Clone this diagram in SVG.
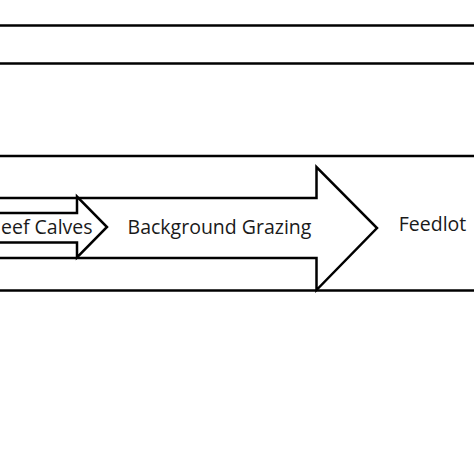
<svg xmlns="http://www.w3.org/2000/svg" width="474" height="474" viewBox="0 0 474 474">
<style>
.ln{stroke:#000;stroke-width:2.5;fill:none}
.ar{stroke:#000;stroke-width:2.5;fill:#fff;stroke-linejoin:miter}
.t{font-family:"Open Sans","Liberation Sans",sans-serif;font-size:19.5px;fill:#1a1a1a}
</style>
<rect width="474" height="474" fill="#fff"/>
<g id="connectors">
<line class="ln" x1="0" y1="25.5" x2="474" y2="25.5"/>
<line class="ln" x1="0" y1="63.5" x2="474" y2="63.5"/>
<line class="ln" x1="0" y1="156" x2="474" y2="156"/>
<line class="ln" x1="0" y1="290.5" x2="474" y2="290.5"/>
</g>
<g id="background-grazing">
<polygon class="ar" points="-5,198 316.5,198 316.5,167 377,228 316.5,290 316.5,258 -5,258"/>
<text class="t" x="219.5" y="234" text-anchor="middle">Background Grazing</text>
</g>
<g id="beef-calves">
<polygon class="ar" points="-5,213 77,213 77,196.5 107,227 77,257.5 77,242.5 -5,242.5"/>
<text class="t" x="1" y="234">eef Calves</text>
</g>
<g id="feedlot">
<text class="t" x="432.5" y="231" text-anchor="middle">Feedlot</text>
</g>
</svg>
